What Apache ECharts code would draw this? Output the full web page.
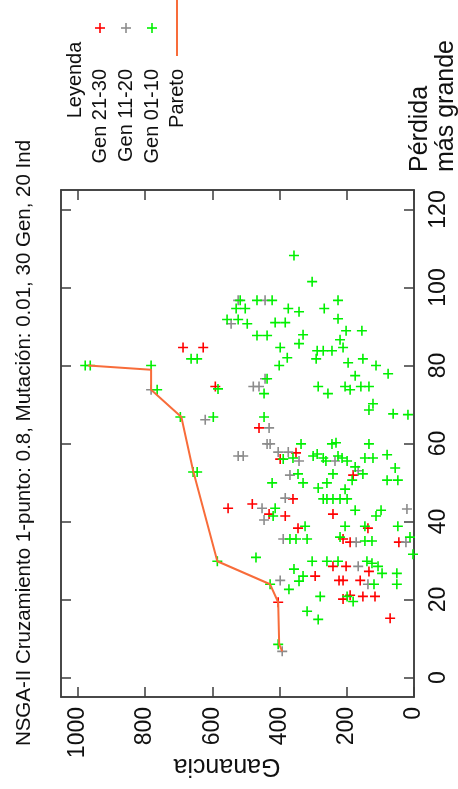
<!DOCTYPE html>
<html>
<head>
<meta charset="utf-8">
<script src="https://cdn.jsdelivr.net/npm/echarts@6/dist/echarts.min.js"></script>
<style>
html, body { margin: 0; padding: 0; background: #ffffff; }
#chart { width: 458px; height: 789px; }
</style>
</head>
<body>
<div id="chart"></div>
<script>
// Axis ticks
const gananciaTicks = [0, 200, 400, 600, 800, 1000];
const perdidaTicks = [0, 20, 40, 60, 80, 100, 120];

// Legend labels (same order as the series)
const legendLabels = ['Gen 21-30', 'Gen 11-20', 'Gen 01-10', 'Pareto'];

// Individuals per generation block: [ganancia, pérdida más grande]
const gen2130 = [
  [687, 84.6], [627, 84.6], [591, 74.6], [461, 64.0], [398, 56.0], [351, 57.6],
  [360, 45.8], [553, 43.4], [481, 44.5], [431, 41.9], [383, 41.4], [345, 38.3],
  [241, 41.9], [137, 38.3], [211, 35.5], [190, 34.7], [45, 34.7], [241, 28.5],
  [202, 28.5], [134, 27.2], [294, 26.0], [223, 24.9], [211, 24.9], [160, 24.9],
  [404, 19.3], [211, 20.1], [190, 21.1], [152, 20.8], [116, 20.8], [71, 15.2],
  [181, 51.9]
];

const gen1120 = [
  [782, 73.8], [621, 66.1], [523, 96.7], [443, 96.7], [544, 90.7], [443, 76.6],
  [478, 74.6], [461, 74.6], [431, 64.0], [437, 59.9], [428, 59.9], [404, 57.8],
  [374, 57.8], [523, 56.8], [508, 56.8], [369, 51.9], [383, 46.0], [452, 43.4],
  [446, 40.4], [389, 35.5], [398, 24.9], [392, 6.7], [342, 55.5], [235, 55.5],
  [166, 53.0], [21, 43.2], [172, 34.7], [24, 34.7], [166, 28.5], [137, 23.9]
];

const gen0110 = [
  [978, 80.0], [963, 80.0], [782, 80.0], [764, 73.8], [695, 66.8], [597, 66.8],
  [657, 52.7], [645, 52.7], [585, 29.8], [428, 23.9], [404, 8.5],
  [357, 108.2], [303, 101.5], [517, 96.7], [467, 96.7], [422, 96.7], [529, 94.6],
  [502, 94.6], [374, 94.6], [342, 93.8], [556, 91.8], [523, 91.8], [496, 90.7],
  [413, 91.0], [383, 91.0], [467, 87.7], [437, 87.7], [398, 84.6], [377, 82.0],
  [401, 80.0], [663, 81.7], [645, 81.7], [583, 74.0], [446, 72.8], [437, 76.6],
  [226, 96.7], [267, 94.6], [226, 92.0], [202, 88.9], [155, 88.9], [330, 87.9],
  [342, 85.6], [220, 86.6], [211, 84.6], [288, 83.8], [270, 83.8], [244, 83.8],
  [291, 81.7], [196, 80.7], [152, 81.7], [113, 80.0], [77, 77.9], [175, 77.4],
  [285, 74.6], [256, 72.8], [205, 74.6], [190, 73.8], [158, 74.6], [134, 74.6],
  [122, 70.2], [134, 68.6], [62, 67.6], [18, 67.4],
  [336, 59.9], [244, 59.9], [232, 60.2], [134, 59.9], [446, 66.8], [389, 56.0],
  [360, 56.3], [300, 56.8], [288, 57.3], [270, 56.3], [262, 55.5], [226, 56.8],
  [214, 56.3], [199, 55.5], [146, 56.3], [122, 56.3], [80, 57.1], [175, 54.0],
  [56, 53.7], [152, 52.2], [345, 52.2], [241, 52.2], [184, 50.6], [80, 50.6],
  [48, 50.6], [330, 49.9], [259, 49.9], [285, 48.6], [205, 48.3], [422, 49.9],
  [270, 45.8], [259, 45.8], [241, 45.8], [220, 45.8], [199, 45.8], [175, 42.9],
  [113, 41.4], [98, 42.9], [324, 38.8], [205, 38.8], [146, 38.8], [48, 38.8],
  [413, 43.4], [419, 41.4],
  [369, 35.5], [351, 35.5], [318, 35.5], [220, 36.0], [146, 35.0], [125, 35.0],
  [12, 36.0], [3, 31.6], [470, 30.8], [303, 29.8], [259, 29.8], [226, 29.8],
  [140, 29.8], [125, 29.3], [107, 28.5], [95, 26.7], [51, 26.7], [357, 27.8],
  [330, 26.0], [342, 24.7], [119, 23.9], [51, 23.9], [372, 22.6], [279, 20.8],
  [199, 20.8], [181, 19.5], [318, 17.0], [285, 14.9]
];

// Non-dominated front
const pareto = [
  [969, 80.0], [782, 78.9], [782, 73.8], [692, 66.8], [657, 53.0],
  [585, 29.8], [428, 23.9], [404, 19.3], [401, 8.5], [392, 6.7]
];

const FONT = '"Liberation Sans", Arial, sans-serif';
const INK = '#111111';
const FRAME = '#3c3c3c';
const COLORS = { red: '#ff0000', gray: '#8c8c8c', green: '#00f000', pareto: '#f86c3a' };
const PLUS = 'path://M4.2,0H5.8V4.2H10V5.8H5.8V10H4.2V5.8H0V4.2H4.2Z';

const chart = echarts.init(document.getElementById('chart'), null, { renderer: 'canvas' });

const tickStyle = { show: true, inside: true, length: 10, lineStyle: { color: FRAME, width: 1.5 } };
const plainNumber = v => String(v);

function scatter(name, data, color) {
  return {
    name, type: 'scatter', data,
    xAxisIndex: 0, yAxisIndex: 0,
    symbol: PLUS, symbolSize: 10,
    itemStyle: { color, opacity: 1 },
    emphasis: { disabled: true },
    animation: false
  };
}

const rot = Math.PI / 2;
function vText(text, x, y, size, align, extra) {
  return Object.assign({
    type: 'text', x, y, rotation: rot, silent: true,
    style: {
      text, fill: INK, font: `${size}px ${FONT}`,
      align, verticalAlign: 'middle', textAlign: align, textVerticalAlign: 'middle'
    }
  }, extra || {});
}
function plusMark(cx, cy, color) {
  return [
    { type: 'line', silent: true, shape: { x1: cx - 5, y1: cy, x2: cx + 5, y2: cy }, style: { stroke: color, lineWidth: 1.6 } },
    { type: 'line', silent: true, shape: { x1: cx, y1: cy - 5, x2: cx, y2: cy + 5 }, style: { stroke: color, lineWidth: 1.6 } }
  ];
}

const legendX = [100, 126, 152, 177];
const legendColors = [COLORS.red, COLORS.gray, COLORS.green];

const graphics = [
  // title along the left side
  vText('NSGA-II Cruzamiento 1-punto: 0.8, Mutación: 0.01, 30 Gen, 20 Ind', 24, 443, 20.5, 'center'),
  // axis names
  {
    type: 'text', x: 433, y: 172, rotation: rot, silent: true,
    style: {
      text: 'Pérdida\nmás grande', fill: INK, font: `25px ${FONT}`, lineHeight: 26,
      align: 'left', verticalAlign: 'middle', textAlign: 'left', textVerticalAlign: 'middle'
    }
  },
  {
    type: 'text', x: 227, y: 766, rotation: Math.PI, silent: true,
    style: {
      text: 'Ganancia', fill: INK, font: `25px ${FONT}`,
      align: 'center', verticalAlign: 'middle', textAlign: 'center', textVerticalAlign: 'middle'
    }
  },
  // legend block
  vText('Leyenda', 75, 80, 20, 'center')
];
legendLabels.forEach((lab, i) => {
  graphics.push(vText(lab, legendX[i], 69, 20, 'right'));
  if (i < 3) {
    plusMark(legendX[i], 28, legendColors[i]).forEach(g => graphics.push(g));
  } else {
    graphics.push({ type: 'line', silent: true, shape: { x1: legendX[i], y1: 0, x2: legendX[i], y2: 56 }, style: { stroke: COLORS.pareto, lineWidth: 2 } });
  }
});

const option = {
  backgroundColor: '#ffffff',
  animation: false,
  grid: {
    left: 61, top: 190, width: 353, height: 507,
    show: true, borderColor: FRAME, borderWidth: 1.5, containLabel: false
  },
  xAxis: [
    {
      type: 'value', position: 'bottom', inverse: true, min: 0, max: 1050,
      axisLine: { show: true, onZero: false, lineStyle: { color: FRAME, width: 1.5 } },
      axisTick: Object.assign({ customValues: gananciaTicks }, tickStyle),
      axisLabel: { customValues: gananciaTicks, formatter: plainNumber, rotate: 90, margin: 10, fontSize: 23, fontFamily: FONT, color: INK },
      splitLine: { show: false }
    },
    {
      type: 'value', position: 'top', inverse: true, min: 0, max: 1050,
      axisLine: { show: true, onZero: false, lineStyle: { color: FRAME, width: 1.5 } },
      axisTick: Object.assign({ customValues: gananciaTicks }, tickStyle),
      axisLabel: { show: false },
      splitLine: { show: false }
    }
  ],
  yAxis: [
    {
      type: 'value', position: 'right', min: -5, max: 125,
      axisLine: { show: true, onZero: false, lineStyle: { color: FRAME, width: 1.5 } },
      axisTick: Object.assign({ customValues: perdidaTicks }, tickStyle),
      axisLabel: { customValues: perdidaTicks, formatter: plainNumber, rotate: 90, margin: 13, fontSize: 23, fontFamily: FONT, color: INK },
      splitLine: { show: false }
    },
    {
      type: 'value', position: 'left', min: -5, max: 125,
      axisLine: { show: true, onZero: false, lineStyle: { color: FRAME, width: 1.5 } },
      axisTick: Object.assign({ customValues: perdidaTicks }, tickStyle),
      axisLabel: { show: false },
      splitLine: { show: false }
    }
  ],
  series: [
    scatter(legendLabels[0], gen2130, COLORS.red),
    scatter(legendLabels[1], gen1120, COLORS.gray),
    scatter(legendLabels[2], gen0110, COLORS.green),
    {
      name: legendLabels[3], type: 'line', data: pareto,
      xAxisIndex: 0, yAxisIndex: 0,
      showSymbol: false, symbol: 'none',
      lineStyle: { color: COLORS.pareto, width: 2 },
      emphasis: { disabled: true },
      z: 3, animation: false
    }
  ],
  graphic: graphics
};

chart.setOption(option);
</script>
</body>
</html>
